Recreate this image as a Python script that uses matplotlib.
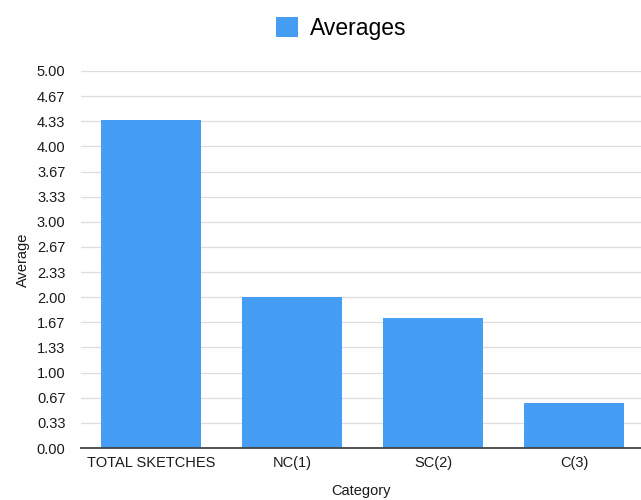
import matplotlib
matplotlib.use("Agg")
import matplotlib.pyplot as plt
import numpy as np

categories = ["TOTAL SKETCHES", "NC(1)", "SC(2)", "C(3)"]
averages = [4.35, 2.00, 1.73, 0.60]
ytick_values = [0, 1/3, 2/3, 1, 4/3, 5/3, 2, 7/3, 8/3, 3, 10/3, 11/3, 4, 13/3, 14/3, 5]
ytick_labels = ["0.00", "0.33", "0.67", "1.00", "1.33", "1.67", "2.00", "2.33",
                "2.67", "3.00", "3.33", "3.67", "4.00", "4.33", "4.67", "5.00"]

plt.rcParams["font.family"] = ["Liberation Sans", "DejaVu Sans"]

fig = plt.figure(figsize=(6.41, 5.00), dpi=100)
ax = fig.add_axes([0.126, 0.104, 0.8736, 0.754])

x = np.arange(len(categories))
bars = ax.bar(x, averages, width=0.71, color="#469ef4", label="Averages", zorder=3)

ax.set_xlim(-0.5, 3.472)
ax.set_ylim(0, 5)
ax.set_yticks(ytick_values)
ax.set_yticklabels(ytick_labels, fontsize=10.5, color="#1a1a1a")
ax.set_xticks(x)
ax.set_xticklabels(categories, fontsize=10.5, color="#1a1a1a")
ax.tick_params(axis="x", length=0, pad=6)
ax.tick_params(axis="y", length=0, pad=11)

ax.grid(axis="y", color="#dddddd", linewidth=0.9, zorder=0)
ax.set_axisbelow(True)
for side in ["top", "right", "left"]:
    ax.spines[side].set_visible(False)
ax.spines["bottom"].set_color("#444444")
ax.spines["bottom"].set_linewidth(1.3)
ax.spines["bottom"].set_zorder(4)

ax.set_ylabel("Average", fontsize=10.5, color="#1a1a1a", labelpad=5)
ax.set_xlabel("Category", fontsize=10.5, color="#1a1a1a", labelpad=10)

fig.legend(handles=[bars], labels=["Averages"], loc="upper center",
           bbox_to_anchor=(0.532, 1.008), frameon=False, fontsize=16.5,
           handlelength=1.0, handleheight=1.0, handletextpad=0.5)

fig.savefig("out.png", dpi=100)
